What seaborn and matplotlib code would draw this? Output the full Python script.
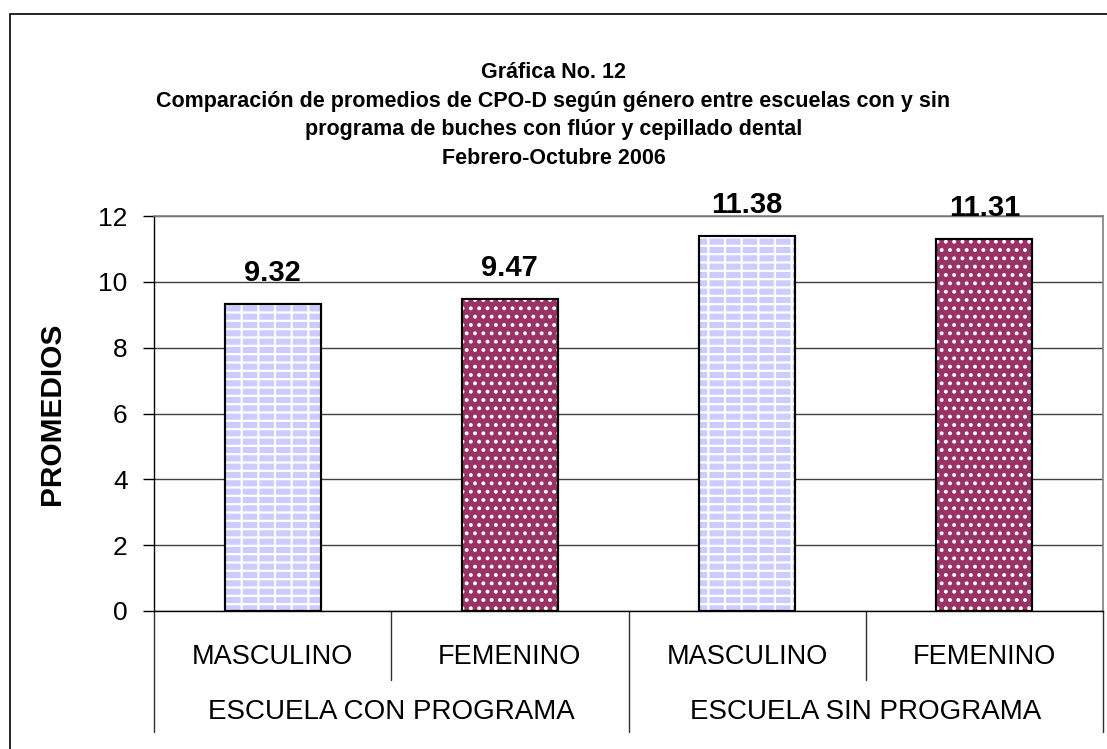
import numpy as np
import pandas as pd
import matplotlib
matplotlib.use('Agg')
import matplotlib.pyplot as plt
import seaborn as sns
from matplotlib.patches import Rectangle

# data
escuelas = ['ESCUELA CON PROGRAMA', 'ESCUELA SIN PROGRAMA']
generos = ['MASCULINO', 'FEMENINO']
promedios = [9.32, 9.47, 11.38, 11.31]
y_ticks = [0, 2, 4, 6, 8, 10, 12]
titulo = ['Gráfica No. 12',
          'Comparación de promedios de CPO-D según género entre escuelas con y sin',
          'programa de buches con flúor y cepillado dental',
          'Febrero-Octubre 2006']

colores = {'MASCULINO': '#ccccff', 'FEMENINO': '#993366'}
tramas = {'MASCULINO': '--|', 'FEMENINO': '..'}

def main():
  sns.set_theme(style='white')
  plt.rcParams['font.family'] = ['Liberation Sans', 'DejaVu Sans']
  plt.rcParams['hatch.linewidth'] = 1.6
  for k in ['text.color', 'axes.labelcolor', 'xtick.color', 'ytick.color']:
    plt.rcParams[k] = 'black'

  df = pd.DataFrame({
      'grupo': [e + '|' + g for e in escuelas for g in generos],
      'escuela': [e for e in escuelas for g in generos],
      'genero': [g for e in escuelas for g in generos],
      'promedio': promedios,
  })

  W, H = 1107, 749
  fig = plt.figure(figsize=(W / 100, H / 100), dpi=100)
  ax = fig.add_axes([154 / W, 1 - 611 / H, 949 / W, 395 / H])

  sns.barplot(data=df, x='grupo', y='promedio', hue='genero', palette=colores,
              dodge=False, width=0.405, saturation=1, edgecolor='black',
              linewidth=1.5, legend=False, ax=ax, zorder=3)

  # pattern overlay on each bar (white bricks / white dots)
  for p in list(ax.patches):
    i = int(round(p.get_x() + p.get_width() / 2))
    g = df['genero'].iloc[i]
    ax.add_patch(Rectangle((p.get_x(), p.get_y()), p.get_width(), p.get_height(),
                           fill=False, hatch=tramas[g], edgecolor='white', lw=0, zorder=3.1))
    ax.add_patch(Rectangle((p.get_x(), p.get_y()), p.get_width(), p.get_height(),
                           fill=False, edgecolor='black', lw=1.5, zorder=3.2))
    ax.annotate(f'{df["promedio"].iloc[i]:.2f}', (i, df['promedio'].iloc[i]),
                xytext=(0, 16.5), textcoords='offset points', ha='center', va='baseline',
                fontsize=21, fontweight='bold', color='black', zorder=4)

  ax.set_ylim(0, 12)
  ax.set_xlim(-0.5, len(df) - 0.5)
  ax.set_yticks(y_ticks)
  ax.yaxis.grid(True, color='#404040', lw=1)
  ax.set_axisbelow(True)
  ax.tick_params(axis='y', left=True, length=8, width=1, color='black', pad=11,
                 labelsize=19, labelcolor='black')
  ax.tick_params(axis='x', bottom=False, labelbottom=False)
  ax.set_xlabel('')
  ax.set_ylabel('')
  for s in ['left', 'bottom']:
    ax.spines[s].set_color('black')
    ax.spines[s].set_linewidth(1)
  for s in ['top', 'right']:
    ax.spines[s].set_color('#808080')
    ax.spines[s].set_linewidth(1.2)

  # category separators and two-level labels below the axis
  tr = ax.get_xaxis_transform()
  for k in range(len(df) + 1):
    b = k - 0.5
    y_end = -0.306 if k % 2 == 0 else -0.175
    ax.plot([b, b], [0, y_end], transform=tr, clip_on=False, color='#303030', lw=1)
  for i, g in enumerate(df['genero']):
    ax.text(i, -0.116, g, transform=tr, ha='center', va='center', fontsize=19.5, color='black')
  for j, e in enumerate(escuelas):
    ax.text(2 * j + 0.5, -0.256, e, transform=tr, ha='center', va='center', fontsize=20, color='black')

  fig.text(52.5 / W, 0.5 * ((1 - 611 / H) + (1 - 216 / H)), 'PROMEDIOS', rotation=90,
           ha='center', va='center', fontsize=21.5, fontweight='bold', color='black')

  for n, linea in enumerate(titulo):
    fig.text(0.5, 1 - (73 + 28.5 * n) / H, linea, ha='center', va='center',
             fontsize=15.5, fontweight='bold', color='black')

  # outer chart border
  fig.add_artist(Rectangle((10 / W, -0.1), 1.2, 1 - 14 / H + 0.1, transform=fig.transFigure,
                           fill=False, edgecolor='black', lw=1.2))

  fig.savefig('out.png', dpi=100)

if __name__ == '__main__':
  main()
